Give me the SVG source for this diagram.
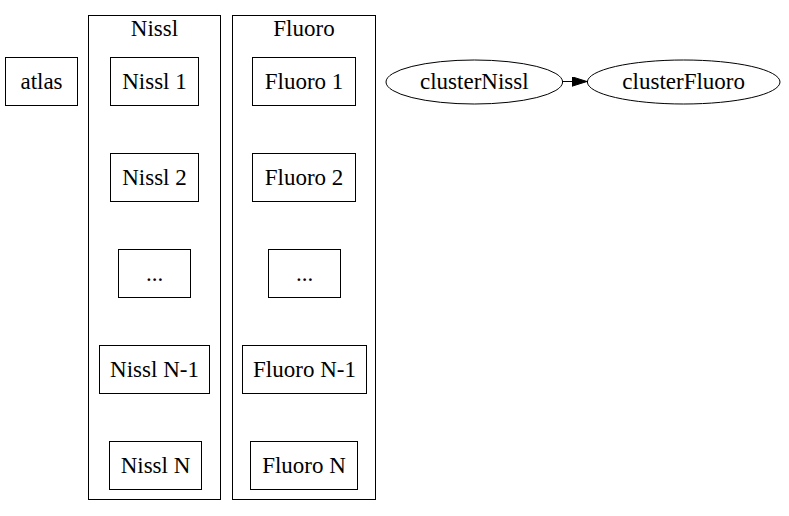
<svg xmlns="http://www.w3.org/2000/svg" width="789" height="516" viewBox="0 0 789 516">
<defs>
<style>
.n{fill:#fff;stroke:#000;stroke-width:1}
.c{fill:none;stroke:#000;stroke-width:1}
text{font-family:"Liberation Serif","Times New Roman",serif;font-size:23px;fill:#000;text-anchor:middle}
</style>
<marker id="ah" markerWidth="15" markerHeight="10" refX="15" refY="5" orient="auto" markerUnits="userSpaceOnUse">
<path d="M0,0.3 L15,5 L0,9.7 Z" fill="#000" stroke="#000" stroke-width="1"/>
</marker>
</defs>
<rect width="789" height="516" fill="#fff"/>
<g id="cluster_nissl">
<rect class="c" x="88.5" y="15.5" width="132" height="484"/>
<text x="154.5" y="36">Nissl</text>
</g>
<g id="cluster_fluoro">
<rect class="c" x="232.5" y="15.5" width="143" height="484"/>
<text x="304" y="36">Fluoro</text>
</g>
<g id="atlas"><rect class="n" x="5.5" y="57.5" width="72" height="48"/><text x="41.5" y="89">atlas</text></g>
<g id="nissl1"><rect class="n" x="110.5" y="57.5" width="88" height="48"/><text x="154.5" y="89">Nissl 1</text></g>
<g id="nissl2"><rect class="n" x="110.5" y="153.5" width="88" height="48"/><text x="154.5" y="185">Nissl 2</text></g>
<g id="nisslDots"><rect class="n" x="118.5" y="249.5" width="72" height="48"/><text x="154.5" y="281">...</text></g>
<g id="nisslN1"><rect class="n" x="99.5" y="345.5" width="110" height="48"/><text x="154.5" y="377">Nissl N-1</text></g>
<g id="nisslN"><rect class="n" x="109.5" y="441.5" width="92" height="48"/><text x="155.5" y="473">Nissl N</text></g>
<g id="fluoro1"><rect class="n" x="252.5" y="57.5" width="103" height="48"/><text x="304" y="89">Fluoro 1</text></g>
<g id="fluoro2"><rect class="n" x="252.5" y="153.5" width="103" height="48"/><text x="304" y="185">Fluoro 2</text></g>
<g id="fluoroDots"><rect class="n" x="268.5" y="249.5" width="72" height="48"/><text x="304.5" y="281">...</text></g>
<g id="fluoroN1"><rect class="n" x="242.5" y="345.5" width="124" height="48"/><text x="304.5" y="377">Fluoro N-1</text></g>
<g id="fluoroN"><rect class="n" x="250.5" y="441.5" width="107" height="48"/><text x="304" y="473">Fluoro N</text></g>
<g id="clusterNissl"><ellipse class="n" cx="474.3" cy="82" rx="88.3" ry="22"/><text x="474.3" y="89">clusterNissl</text></g>
<g id="clusterFluoro"><ellipse class="n" cx="683.7" cy="82" rx="96.3" ry="22"/><text x="683.7" y="89">clusterFluoro</text></g>
<g id="edges">
<path d="M562.6,81.5 L587,81.5" fill="none" stroke="#000" stroke-width="1" marker-end="url(#ah)"/>
</g>
</svg>
